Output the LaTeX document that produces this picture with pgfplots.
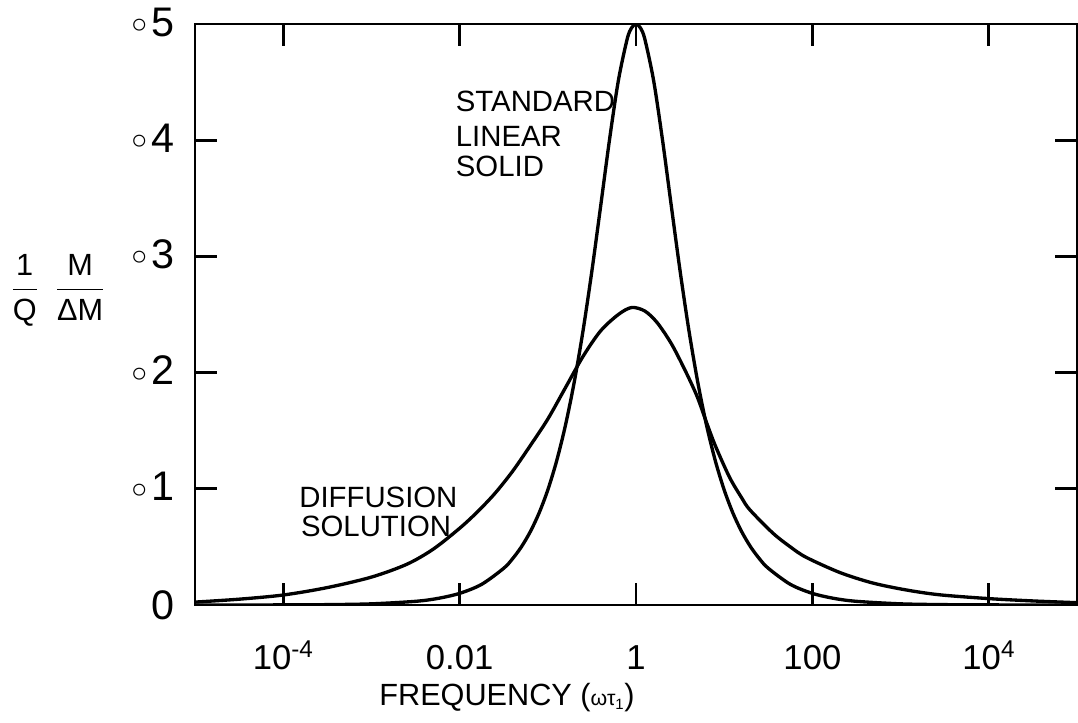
\documentclass[border=0pt]{standalone}
\usepackage{pgfplots}
\pgfplotsset{compat=1.18}
\usepackage{fontspec}
\setmainfont{Liberation Sans}
\newfontfamily\symfont{DejaVu Sans}
\newcommand{\dd}{{\symfont\raisebox{-0.1em}{◦}}}
\begin{document}
\begin{tikzpicture}
\begin{axis}[
  scale only axis, width=661.5pt, height=435.75pt,
  xmode=log, xmin=1e-5, xmax=1e5, ymin=0, ymax=0.5,
  axis line style={line width=2.2pt},
  every tick/.style={black, line width=2.2pt},
  major tick length=16.5pt,
  xtick={1e-4,1e-2,1,1e2,1e4},
  xticklabels={10\textsuperscript{-4},0.01,1,100,10\textsuperscript{4}},
  xminorticks=false, yminorticks=false,
  ytick={0,0.1,0.2,0.3,0.4,0.5},
  yticklabels={0,\dd1,\dd2,\dd3,\dd4,\dd5},
  xticklabel style={font=\fontsize{26}{30}\selectfont, anchor=base, inner sep=0pt, yshift=-48.5pt},
  yticklabel style={font=\fontsize{31}{36}\selectfont, anchor=east, inner sep=0pt, xshift=-15pt},
]
% standard linear solid
\addplot[black, line width=2.5pt, smooth] coordinates {
(1e-5,0.00001) (3.1623e-5,0.0000316) (1e-4,0.0001) (3.1623e-4,0.000316) (1e-3,0.001)
(3.1623e-3,0.003162) (5.6234e-3,0.005623) (0.01,0.009999) (0.017783,0.01778) (0.031623,0.03159)
(0.039811,0.03975) (0.050119,0.04999) (0.063096,0.06285) (0.079433,0.07893) (0.1,0.09901)
(0.12589,0.12393) (0.15849,0.15460) (0.19953,0.19189) (0.25119,0.23628) (0.31623,0.28748)
(0.39811,0.34364) (0.50119,0.40056) (0.63096,0.45128) (0.79433,0.48705) (0.89125,0.49670)
(1,0.5)
(1.1220,0.49670) (1.2589,0.48705) (1.5849,0.45128) (1.9953,0.40056) (2.5119,0.34364)
(3.1623,0.28748) (3.9811,0.23628) (5.0119,0.19189) (6.3096,0.15460) (7.9433,0.12393)
(10,0.09901) (12.589,0.07893) (15.849,0.06285) (19.953,0.04999) (25.119,0.03975)
(31.623,0.03159) (56.234,0.01778) (100,0.009999) (177.83,0.005623) (316.23,0.003162)
(1000,0.001) (3162.3,0.000316) (1e4,0.0001) (31623,0.0000316) (1e5,0.00001)
};
% diffusion solution
\addplot[black, line width=2.5pt, smooth] coordinates {
(1e-5,0.0025) (3.1623e-5,0.0050) (1e-4,0.0086) (3.1623e-4,0.015) (1e-3,0.024)
(2.5119e-3,0.035) (5.0119e-3,0.048) (0.01,0.066) (0.015849,0.080) (0.025119,0.096)
(0.039811,0.115) (0.063096,0.137) (0.1,0.160) (0.15849,0.187) (0.25119,0.214)
(0.39811,0.236) (0.63096,0.250) (0.89125,0.256) (1.2589,0.253) (1.7378,0.243)
(2.5119,0.225) (3.5481,0.203) (4.8978,0.180) (6.3096,0.157) (7.9433,0.137)
(11.482,0.110) (15.849,0.092) (19.498,0.082) (35.481,0.062) (56.234,0.050)
(85.114,0.041) (204.17,0.028) (478.63,0.019) (1148.2,0.013) (2754.2,0.0088)
(1e4,0.0055) (31623,0.0035) (1e5,0.0020)
};
\node[anchor=base west, inner sep=0pt, font=\fontsize{22}{26}\selectfont] at (axis cs:0.00902,0.425) {STANDARD};
\node[anchor=base west, inner sep=0pt, font=\fontsize{22}{26}\selectfont] at (axis cs:0.00902,0.395) {LINEAR};
\node[anchor=base west, inner sep=0pt, font=\fontsize{22}{26}\selectfont] at (axis cs:0.00902,0.369) {SOLID};
\node[anchor=base west, inner sep=0pt, font=\fontsize{22}{26}\selectfont] at (axis cs:1.514e-4,0.0836) {DIFFUSION};
\node[anchor=base west, inner sep=0pt, font=\fontsize{22}{26}\selectfont] at (axis cs:1.585e-4,0.0586) {SOLUTION};
\end{axis}
\node[anchor=base, inner sep=0pt, font=\fontsize{23}{27}\selectfont] at (234pt,-75.5pt) {FREQUENCY ({\fontsize{16}{19}\selectfont ωτ\textsubscript{1}})};
\node[inner sep=0pt, font=\fontsize{23}{27}\selectfont] at (-102.75pt,236.25pt) {$\displaystyle\frac{\mbox{1}}{\mbox{Q}}\hspace{13pt}\frac{\mbox{M}}{\mbox{ΔM}}$};
\pgfresetboundingbox
\path (-146.25pt,-87.75pt) rectangle (662.25pt,453.75pt);
\end{tikzpicture}
\end{document}
